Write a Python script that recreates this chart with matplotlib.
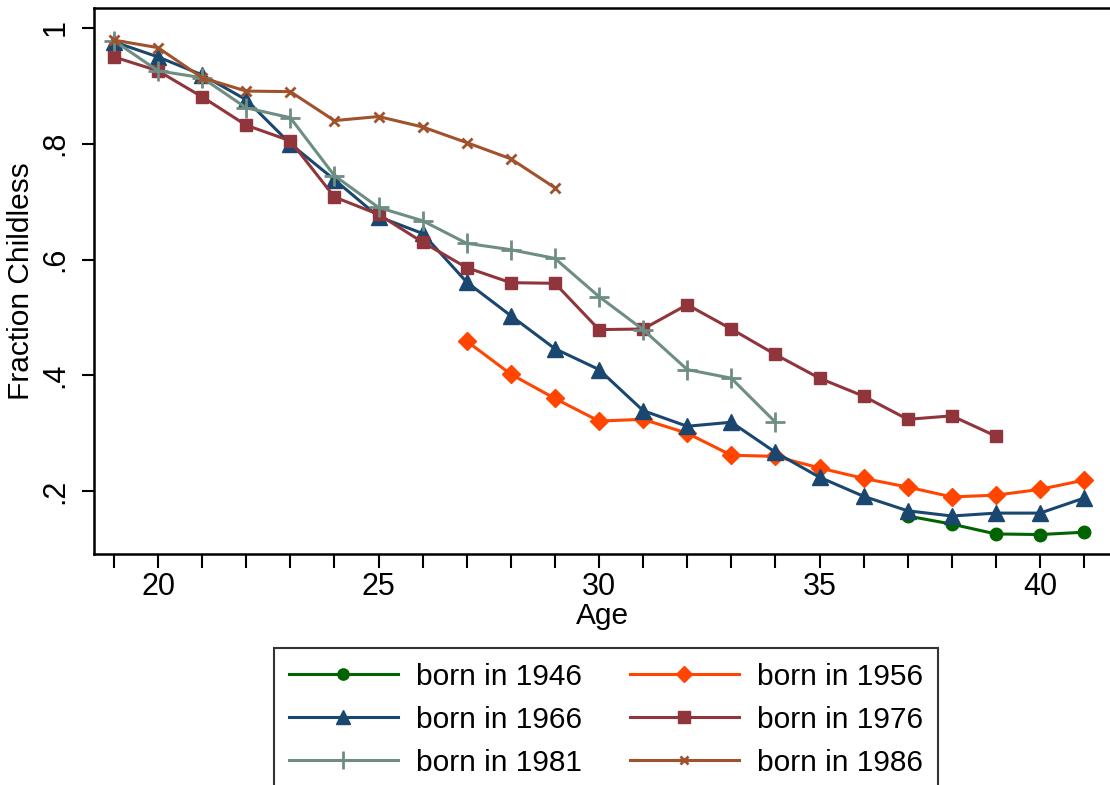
import numpy as np
import matplotlib
matplotlib.use('Agg')
import matplotlib.pyplot as plt

plt.rcParams['font.family'] = ['Liberation Sans', 'DejaVu Sans']

# ages and fraction childless by birth cohort
age_1946 = list(range(37, 42))
y_1946 = [0.157, 0.143, 0.126, 0.125, 0.129]

age_1956 = list(range(27, 42))
y_1956 = [0.459, 0.402, 0.360, 0.321, 0.324, 0.300, 0.262, 0.260, 0.240,
          0.222, 0.207, 0.190, 0.193, 0.203, 0.219]

age_1966 = list(range(19, 42))
y_1966 = [0.976, 0.950, 0.919, 0.876, 0.800, 0.738, 0.674, 0.645, 0.561,
          0.503, 0.446, 0.410, 0.339, 0.312, 0.319, 0.267, 0.224, 0.191,
          0.166, 0.157, 0.162, 0.162, 0.188]

age_1976 = list(range(19, 40))
y_1976 = [0.950, 0.926, 0.881, 0.832, 0.805, 0.708, 0.678, 0.630, 0.586,
          0.560, 0.559, 0.479, 0.480, 0.522, 0.480, 0.436, 0.395, 0.364,
          0.324, 0.330, 0.295]

age_1981 = list(range(19, 35))
y_1981 = [0.978, 0.926, 0.914, 0.862, 0.845, 0.745, 0.690, 0.667, 0.628,
          0.617, 0.602, 0.536, 0.479, 0.410, 0.395, 0.319]

age_1986 = list(range(19, 30))
y_1986 = [0.979, 0.966, 0.914, 0.891, 0.890, 0.840, 0.847, 0.829, 0.802,
          0.774, 0.724]

fig = plt.figure(figsize=(11.1, 7.85), dpi=100)
ax = fig.add_axes([94/1110, 1-554/785, 1-94/1110, (554-8)/785])

lw = 2.2
h1946, = ax.plot(age_1946, y_1946, color='#006400', marker='o', ms=9, lw=lw, label='born in 1946')
h1956, = ax.plot(age_1956, y_1956, color='#ff4500', marker='D', ms=9, lw=lw, label='born in 1956')
h1966, = ax.plot(age_1966, y_1966, color='#1a476f', marker='^', ms=11, lw=lw, label='born in 1966')
h1976, = ax.plot(age_1976, y_1976, color='#90353b', marker='s', ms=9, lw=lw, label='born in 1976')
h1981, = ax.plot(age_1981, y_1981, color='#6e8e84', marker='+', ms=14, mew=2, lw=lw, label='born in 1981')
h1986, = ax.plot(age_1986, y_1986, color='#a0522d', marker='x', ms=7, mew=2, lw=lw, label='born in 1986')

ax.set_xlim(20 - 64/44.1, 20 + (1110-158)/44.1)
ax.set_ylim(0.2 - 63/580, 1 + 20/580)

ax.set_xticks(range(19, 42), minor=True)
ax.set_xticks([20, 25, 30, 35, 40])
ax.set_yticks([0.2, 0.4, 0.6, 0.8, 1.0])
ax.set_yticklabels(['.2', '.4', '.6', '.8', '1'], rotation=90, va='center')
ax.tick_params(axis='x', which='both', length=10, width=1.5, labelsize=22, pad=3)
ax.tick_params(axis='y', length=9, width=1.5, labelsize=22, pad=8)
for s in ['left', 'bottom', 'top']:
    ax.spines[s].set_linewidth(1.8)
ax.spines['right'].set_visible(False)

ax.set_xlabel('Age', fontsize=21.5, labelpad=0)
ax.set_ylabel('Fraction Childless', fontsize=21.5, labelpad=4)

# column-major fill so rows read 1946/1956, 1966/1976, 1981/1986
handles = [h1946, h1966, h1981, h1956, h1976, h1986]
leg = fig.legend(handles=handles, labels=[h.get_label() for h in handles],
                 loc='upper left', bbox_to_anchor=(274/1110, 1-648/785), ncol=2,
                 fontsize=21.5, frameon=True, fancybox=False, edgecolor='black',
                 handlelength=3.65, handletextpad=0.6, columnspacing=1.6,
                 labelspacing=0.5, borderpad=0.5, borderaxespad=0, markerscale=0.9)
leg.get_frame().set_linewidth(1.5)

fig.savefig('out.png', dpi=100)
